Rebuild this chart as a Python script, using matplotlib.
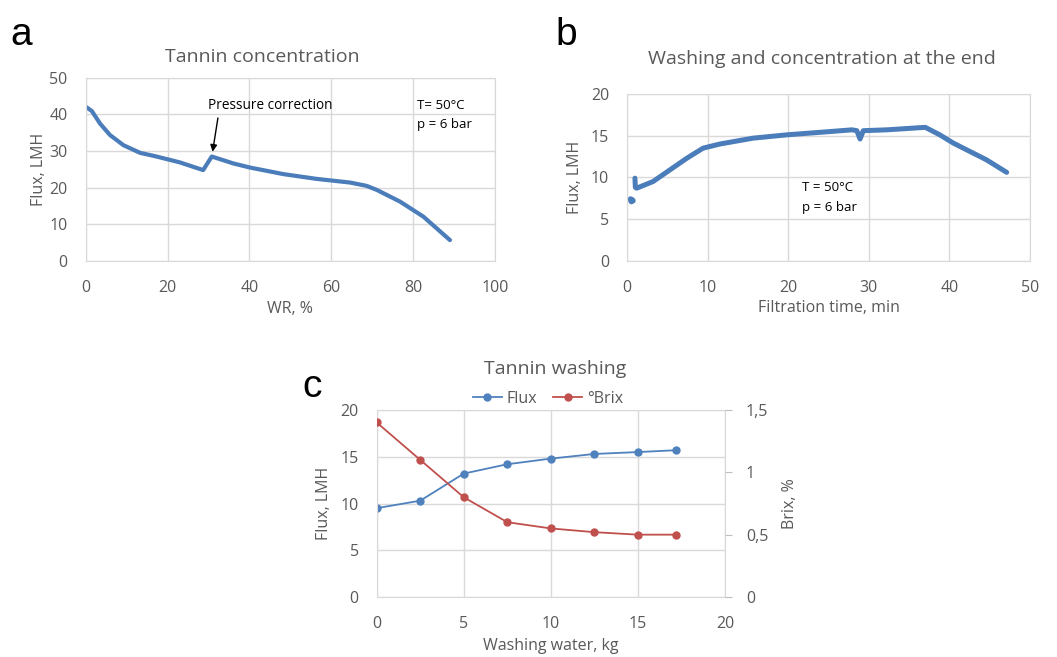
import matplotlib
matplotlib.use("Agg")
import matplotlib.pyplot as plt
import numpy as np

# ---- panel a: tannin concentration ----
wr = [0, 1.5, 3.5, 5.9, 9.2, 13.3, 17.3, 23.0, 28.7, 30.8, 36.1, 40.1,
      48.3, 56.4, 64.6, 68.6, 71.1, 76.8, 82.5, 89.0]
flux_a = [42.1, 40.9, 37.5, 34.4, 31.6, 29.5, 28.5, 26.9, 24.8, 28.5, 26.6,
          25.5, 23.7, 22.4, 21.4, 20.5, 19.4, 16.2, 12.1, 5.7]

# ---- panel b: washing and concentration ----
t_start = [0.4, 0.5, 0.6, 0.7]
flux_start = [7.4, 7.1, 7.3, 7.2]
t_b = [0.95, 1.0, 1.16, 3.2, 5.3, 7.4, 9.4, 11.5, 15.6, 19.8, 23.9, 27.9,
       28.5, 28.9, 29.3, 32.2, 37.0, 38.8, 40.5, 44.6, 47.1]
flux_b = [9.9, 8.8, 8.7, 9.5, 10.9, 12.3, 13.5, 14.0, 14.7, 15.1, 15.4, 15.7,
          15.6, 14.6, 15.6, 15.7, 16.0, 15.1, 14.1, 12.1, 10.6]

# ---- panel c: tannin washing ----
water = [0, 2.5, 5, 7.5, 10, 12.5, 15, 17.2]
flux_c = [9.5, 10.3, 13.2, 14.2, 14.8, 15.3, 15.5, 15.7]
brix = [1.40, 1.10, 0.80, 0.60, 0.55, 0.52, 0.50, 0.50]

plt.rcParams['font.family'] = ['Open Sans', 'DejaVu Sans']
GRID = "#d9d9d9"
TXT = "#595959"
BLUE = "#4a7dba"

fig = plt.figure(figsize=(10.57, 6.57), dpi=100)
W, H = 1057, 657


def box(x0, y0, x1, y1):
    return [x0 / W, 1 - y1 / H, (x1 - x0) / W, (y1 - y0) / H]


def style(ax, xmax, xstep, ymax, ystep):
    ax.set_xlim(0, xmax)
    ax.set_ylim(0, ymax)
    ax.set_xticks(np.arange(0, xmax + 0.01, xstep))
    ax.set_yticks(np.arange(0, ymax + 0.01, ystep))
    ax.grid(True, color=GRID, lw=1)
    ax.set_axisbelow(True)
    for s in ax.spines.values():
        s.set_color(GRID)
    ax.tick_params(length=0, labelsize=11.5, colors=TXT)
    ax.tick_params(axis="x", pad=14)
    ax.tick_params(axis="y", pad=13)


# a
ax = fig.add_axes(box(85.7, 77.7, 495, 261))
ax.plot(wr, flux_a, color=BLUE, lw=3.0, solid_capstyle="round")
style(ax, 100, 20, 50, 10)
ax.set_xlabel("WR, %", fontsize=11.5, color=TXT, labelpad=3)
ax.set_ylabel("Flux, LMH", fontsize=11.5, color=TXT, labelpad=2)
ax.annotate("", xy=(31.0, 29.8), xytext=(32.3, 39.0),
            arrowprops=dict(arrowstyle="-|>", color="k", lw=1,
                            shrinkA=0, shrinkB=0))
ax.text(45.0, 42.5, "Pressure correction", fontsize=9.8, ha="center",
        va="center")
ax.text(81.0, 42.3, "T= 50°C", fontsize=9.5, va="center")
ax.text(81.0, 37.1, "p = 6 bar", fontsize=9.5, va="center")
fig.text(262 / W, 1 - 57 / H, "Tannin concentration", fontsize=14,
         color=TXT, ha="center", va="center")
fig.text(10 / W, 1 - 35 / H, "a", fontsize=28, ha="left", va="center",
         family="Liberation Sans")

# b
ax = fig.add_axes(box(627.3, 94, 1030, 260.7))
ax.plot(t_start, flux_start, color=BLUE, lw=4.0, solid_capstyle="round")
ax.plot(t_b, flux_b, color=BLUE, lw=3.6, solid_capstyle="round")
style(ax, 50, 10, 20, 5)
ax.set_xlabel("Filtration time, min", fontsize=11.5, color=TXT, labelpad=3)
ax.set_ylabel("Flux, LMH", fontsize=11.5, color=TXT, labelpad=6)
ax.text(21.7, 8.8, "T = 50°C", fontsize=9.5, va="center")
ax.text(21.7, 6.4, "p = 6 bar", fontsize=9.5, va="center")
fig.text(822 / W, 1 - 59 / H, "Washing and concentration at the end",
         fontsize=14, color=TXT, ha="center", va="center")
fig.text(555 / W, 1 - 35 / H, "b", fontsize=28, ha="left", va="center",
         family="Liberation Sans")

# c
ax = fig.add_axes(box(376.7, 410, 725, 597))
l1, = ax.plot(water, flux_c, "o-", color="#4f81bd", lw=1.3, ms=5, label="Flux")
style(ax, 20, 5, 20, 5)
ax.set_xlabel("Washing water, kg", fontsize=11.5, color=TXT, labelpad=4)
ax.set_ylabel("Flux, LMH", fontsize=11.5, color=TXT, labelpad=6)
ax2 = ax.twinx()
l2, = ax2.plot(water, brix, "o-", color="#c0504d", lw=1.3, ms=5, label="°Brix")
ax2.set_ylim(0, 1.5)
ax2.set_yticks([0, 0.5, 1, 1.5])
ax2.set_yticklabels(["0", "0,5", "1", "1,5"])
for s in ax2.spines.values():
    s.set_visible(False)
ax2.tick_params(axis="y", length=5, color="#bfbfbf", labelsize=11.5,
                labelcolor=TXT, pad=10)
ax2.set_ylabel("Brix, %", fontsize=11.5, color=TXT, labelpad=10)
fig.legend(handles=[l1, l2], loc="center", bbox_to_anchor=(548 / W, 1 - 399 / H),
           ncol=2, frameon=False, fontsize=11.5, labelcolor=TXT,
           handlelength=1.8, columnspacing=1.0, handletextpad=0.3)
fig.text(555 / W, 1 - 369 / H, "Tannin washing", fontsize=14, color=TXT,
         ha="center", va="center")
fig.text(302 / W, 1 - 387 / H, "c", fontsize=28, ha="left", va="center",
         family="Liberation Sans")

fig.savefig("out.png", dpi=100)
